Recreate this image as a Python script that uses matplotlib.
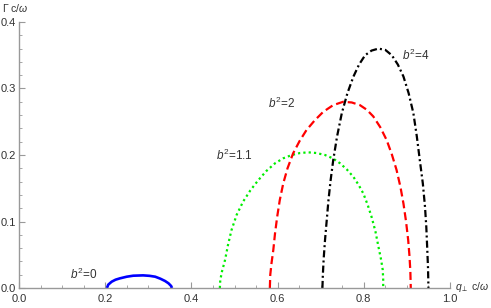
import matplotlib
matplotlib.use("Agg")
import matplotlib.pyplot as plt
from matplotlib.ticker import MultipleLocator, FormatStrFormatter

plt.rcParams["font.family"] = ["Liberation Sans", "DejaVu Sans"]
plt.rcParams["mathtext.fontset"] = "custom"
plt.rcParams["mathtext.rm"] = "Liberation Sans"
plt.rcParams["mathtext.it"] = "Liberation Sans:italic"

# curves: q_perp c/omega vs Gamma c/omega
q_b0 = [0.204, 0.207, 0.215, 0.224, 0.234, 0.250, 0.265, 0.288, 0.303,
        0.316, 0.328, 0.339, 0.347, 0.353, 0.355]
g_b0 = [0.0, 0.005, 0.0095, 0.0125, 0.0145, 0.017, 0.0185, 0.019, 0.0183,
        0.017, 0.014, 0.0105, 0.007, 0.003, 0.0]

q_b11 = [0.466, 0.467, 0.471, 0.478, 0.485, 0.493, 0.505, 0.520, 0.537,
         0.555, 0.574, 0.594, 0.613, 0.633, 0.652, 0.671, 0.690, 0.710,
         0.728, 0.745, 0.761, 0.776, 0.788, 0.799, 0.809, 0.818, 0.827,
         0.834, 0.840, 0.844, 0.845, 0.845]
g_b11 = [0.0, 0.012, 0.025, 0.042, 0.065, 0.087, 0.110, 0.130, 0.147,
         0.162, 0.176, 0.1875, 0.195, 0.200, 0.203, 0.204, 0.203, 0.200,
         0.195, 0.1875, 0.178, 0.167, 0.155, 0.142, 0.125, 0.107, 0.085,
         0.062, 0.043, 0.027, 0.012, 0.0]

q_b2 = [0.582, 0.583, 0.586, 0.590, 0.594, 0.599, 0.605, 0.613, 0.623,
        0.636, 0.651, 0.667, 0.686, 0.706, 0.729, 0.752, 0.772, 0.791,
        0.807, 0.822, 0.838, 0.853, 0.865, 0.876, 0.885, 0.892, 0.898,
        0.903, 0.906, 0.908, 0.909]
g_b2 = [0.0, 0.020, 0.038, 0.057, 0.082, 0.107, 0.132, 0.157, 0.180,
        0.2025, 0.221, 0.2375, 0.252, 0.265, 0.275, 0.280, 0.279, 0.275,
        0.268, 0.258, 0.242, 0.2225, 0.201, 0.1775, 0.152, 0.127, 0.100,
        0.072, 0.048, 0.025, 0.0]

q_b4 = [0.704, 0.7045, 0.705, 0.707, 0.710, 0.714, 0.718, 0.723, 0.729,
        0.738, 0.749, 0.762, 0.776, 0.789, 0.803, 0.818, 0.834, 0.850,
        0.865, 0.879, 0.892, 0.904, 0.915, 0.923, 0.930, 0.937, 0.942,
        0.945, 0.947, 0.949, 0.950]
g_b4 = [0.0, 0.010, 0.020, 0.045, 0.072, 0.102, 0.132, 0.162, 0.192,
        0.228, 0.263, 0.293, 0.318, 0.336, 0.350, 0.357, 0.360, 0.358,
        0.350, 0.336, 0.318, 0.293, 0.263, 0.228, 0.192, 0.157, 0.122,
        0.092, 0.062, 0.030, 0.0]

labels = ["$b^2$=0", "$b^2$=1.1", "$b^2$=2", "$b^2$=4"]
label_x = [0.151, 0.499, 0.609, 0.920]
label_y = [0.020, 0.200, 0.278, 0.350]

fig = plt.figure(figsize=(4.91, 3.08), dpi=100)
ax = fig.add_axes([0.0387, 0.0649, 0.8778, 0.8637])

ax.plot(q_b0, g_b0, color="#0000ff", lw=1.9, solid_capstyle="butt")
ax.plot(q_b11, g_b11, color="#00ee00", lw=1.6, linestyle=(0, (1, 1.4)))
ax.plot(q_b2, g_b2, color="#ff0000", lw=1.6, linestyle=(0, (3.6, 1.8)))
ax.plot(q_b4, g_b4, color="black", lw=1.6, linestyle=(0, (3.2, 1.4, 0.9, 1.4)))

for t, x, y in zip(labels, label_x, label_y):
    ax.text(x, y, t, ha="center", va="center", fontsize=8.5, color="#333333")

ax.set_xlim(0, 1.0)
ax.set_ylim(0, 0.4)
ax.xaxis.set_major_locator(MultipleLocator(0.2))
ax.xaxis.set_minor_locator(MultipleLocator(0.05))
ax.yaxis.set_major_locator(MultipleLocator(0.1))
ax.yaxis.set_minor_locator(MultipleLocator(0.02))
ax.xaxis.set_major_formatter(FormatStrFormatter("%.1f"))
ax.yaxis.set_major_formatter(FormatStrFormatter("%.1f"))

for s in ["top", "right"]:
    ax.spines[s].set_visible(False)
for s in ["left", "bottom"]:
    ax.spines[s].set_color("#999999")
    ax.spines[s].set_linewidth(1.0)
ax.tick_params(which="both", direction="in", color="#999999", labelsize=8,
               labelcolor="#333333")
ax.tick_params(axis="x", which="major", pad=4)
ax.tick_params(axis="y", which="major", pad=2)
ax.tick_params(which="major", length=4, width=0.8)
ax.tick_params(which="minor", length=2.5, width=0.6)

fig.text(0.005, 0.975, r"$\Gamma$ c/$\omega$", fontsize=7.5, color="#333333",
         ha="left", va="center")
fig.text(0.996, 0.068, r"$q_{\perp}$ c/$\omega$", fontsize=7.5, color="#333333",
         ha="right", va="center")

fig.savefig("out.png", dpi=100)
